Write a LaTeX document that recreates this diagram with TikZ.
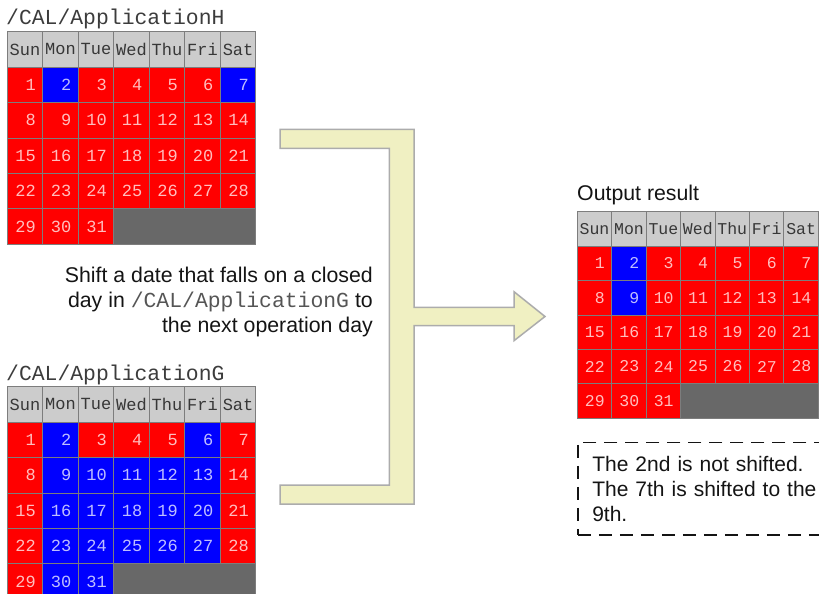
\documentclass[tikz,border=0pt]{standalone}
\usepackage{fontspec}
\setmainfont{Liberation Sans}
\setmonofont{Liberation Mono}
\definecolor{calred}{RGB}{255,0,0}
\definecolor{calblue}{RGB}{0,0,255}
\definecolor{numred}{RGB}{255,190,190}
\definecolor{numblue}{RGB}{190,190,255}
\definecolor{hdrgray}{RGB}{204,204,204}
\definecolor{hdrtext}{RGB}{55,55,55}
\definecolor{emptygray}{RGB}{104,104,104}
\definecolor{gridgray}{RGB}{125,125,125}
\definecolor{arrowfill}{RGB}{240,240,194}
\definecolor{arrowline}{RGB}{172,172,172}
\definecolor{titlegray}{RGB}{60,60,60}
\definecolor{monogray}{RGB}{85,85,85}
\definecolor{textdark}{RGB}{20,20,20}
\tikzset{
  calcell/.style={draw=gridgray, line width=0.8pt, outer sep=0pt, inner ysep=0pt},
  hdrcell/.style={calcell, fill=hdrgray, text=hdrtext, inner xsep=0pt},
  daycell/.style={calcell, inner xsep=7pt, align=right},
  emptycell/.style={calcell, fill=emptygray},
  caltitle/.style={anchor=base west, inner sep=0pt, text=titlegray, font=\ttfamily\fontsize{21.4}{21.4}\selectfont},
  sanstext/.style={inner sep=0pt, text=textdark, font=\fontsize{21.3}{25}\selectfont},
  notetext/.style={text=textdark, font=\fontsize{21}{25.3}\selectfont},
  bigarrow/.style={fill=arrowfill, draw=arrowline, line width=1.5pt, line join=miter},
  notebox/.style={draw=textdark, line width=1.6pt, dash pattern=on 13pt off 8pt, anchor=north west, align=left, inner xsep=14.5pt, inner ysep=0pt, text width=270pt, minimum height=92.6pt}
}
% #1 prefix, #2 x0, #3 y0, #4 cell width, #5 cell height, #6 font size, #7 blue days
\newcommand\drawcalendar[7]{%
  \foreach \n [count=\i from 0] in {Sun,Mon,Tue,Wed,Thu,Fri,Sat}{
    \node[hdrcell, minimum width=#4, minimum height=#5,
          font=\ttfamily\fontsize{#6}{#6}\selectfont]
      (#1-h\i) at ({#2+(\i+0.5)*#4},{#3+0.5*#5}) {\n};
  }
  \pgfmathsetlengthmacro\calTW{#4-14}
  \foreach \d in {1,...,31}{
    \pgfmathtruncatemacro\col{mod(\d-1,7)}
    \pgfmathtruncatemacro\row{div(\d-1,7)+1}
    \gdef\calcc{red}
    \foreach \b in {#7}{\ifnum\b=\d\relax\gdef\calcc{blue}\fi}
    \node[daycell, fill=cal\calcc, text=num\calcc, minimum width=#4, minimum height=#5,
          text width=\calTW, font=\ttfamily\fontsize{#6}{#6}\selectfont]
      (#1-d\d) at ({#2+(\col+0.5)*#4},{#3+(\row+0.5)*#5}) {\d};
  }
  \node[emptycell, minimum width=4*#4, minimum height=#5]
    (#1-empty) at ({#2+5*#4},{#3+5.5*#5}) {};
}
\begin{document}
\begin{tikzpicture}[x=1pt,y=-1pt]
\useasboundingbox (0,0) rectangle (819,594);

% calendar H
\node[caltitle] (titleH) at (6,25) {/CAL/ApplicationH};
\drawcalendar{H}{7.3}{31.7}{35.5}{35.4}{17}{2,7}

% calendar G
\node[caltitle] (titleG) at (6,380.5) {/CAL/ApplicationG};
\drawcalendar{G}{7.3}{386.7}{35.5}{35.4}{17}{2,6,9,10,11,12,13,16,17,18,19,20,23,24,25,26,27,30,31}

% big arrow
\draw[bigarrow] (280,129.3) -- (414,129.3) -- (414,307.3) -- (514,307.3) -- (514,291.7)
  -- (545,316.5) -- (514,340.7) -- (514,325.7) -- (414,325.7) -- (414,504) -- (280,504)
  -- (280,485) -- (389.3,485) -- (389.3,148.3) -- (280,148.3) -- cycle;

% explanation
\node[sanstext, anchor=north east, align=right] (shift) at (373,266.5)
  {Shift a date that falls on a closed\\
   day in {\ttfamily\color{monogray}\fontsize{21.4}{25}\selectfont /CAL/ApplicationG} to\\
   the next operation day};

% output
\node[sanstext, anchor=base west] (outtitle) at (577,200) {Output result};
\drawcalendar{O}{577.3}{211.7}{34.43}{34.4}{16.5}{2,9}

% note
\node[notebox, notetext] (note) at (577,441.7)
  {The 2nd is not shifted.\\The 7th is shifted to the\\9th.};
\end{tikzpicture}
\end{document}
